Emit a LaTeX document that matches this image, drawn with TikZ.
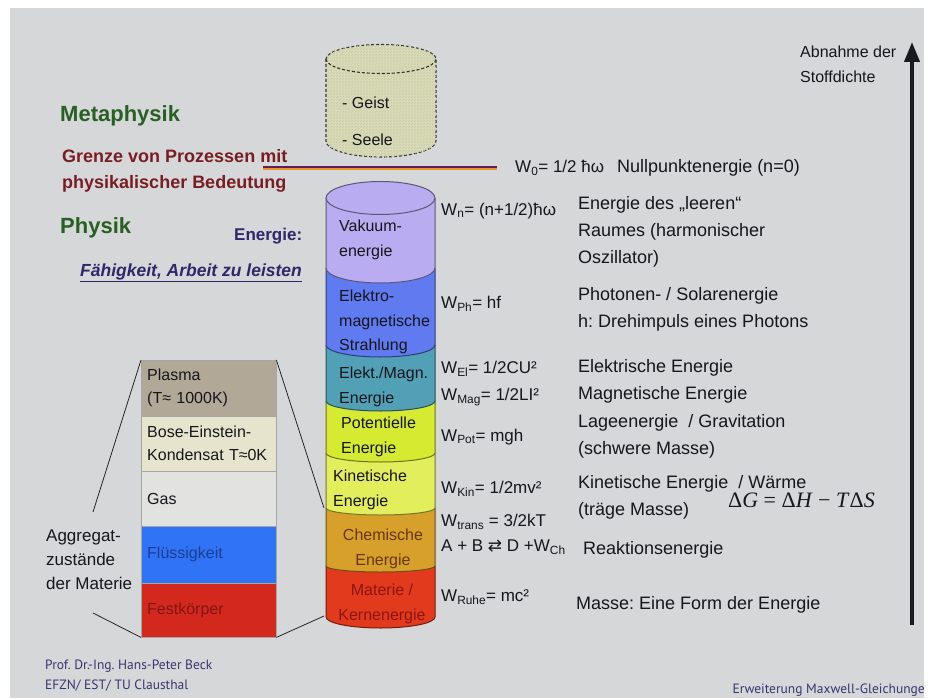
\documentclass[tikz,border=0pt]{standalone}
\usepackage{fontspec}
\setmainfont{Liberation Sans}
\newfontfamily\symfont{DejaVu Sans}
\newfontfamily\footfont{PT Sans}
\newfontfamily\eqfont{Liberation Serif}
\usepackage{tikz}
\usetikzlibrary{arrows.meta,patterns}
\frenchspacing

\definecolor{slide}{RGB}{214,215,217}
\definecolor{txt}{RGB}{22,22,28}
\definecolor{metagreen}{RGB}{40,95,35}
\definecolor{grenzred}{RGB}{120,30,35}
\definecolor{navy}{RGB}{45,40,105}
\definecolor{footblue}{RGB}{55,55,110}
\definecolor{cvak}{RGB}{186,172,240}
\definecolor{cem}{RGB}{96,122,240}
\definecolor{celm}{RGB}{82,160,182}
\definecolor{cpot}{RGB}{214,234,50}
\definecolor{ckin}{RGB}{226,238,92}
\definecolor{cchem}{RGB}{214,160,42}
\definecolor{cmat}{RGB}{226,58,28}
\definecolor{cmeta}{RGB}{216,220,172}
\definecolor{cplasma}{RGB}{178,168,152}
\definecolor{cbec}{RGB}{230,228,205}
\definecolor{cgas}{RGB}{226,226,224}
\definecolor{cfluid}{RGB}{48,116,245}
\definecolor{csolid}{RGB}{210,40,30}

\begin{document}
\begin{tikzpicture}[
  x=1pt, y=-1pt, >=Stealth,
  every node/.style={inner sep=0pt, text=txt},
  head/.style={anchor=west, font=\fontsize{22}{26}\selectfont\bfseries, text=metagreen},
  grenz/.style={anchor=west, align=left, font=\fontsize{18}{26}\selectfont\bfseries, text=grenzred},
  cyl/.style={anchor=west, align=left, font=\fontsize{16}{24.5}\selectfont},
  frm/.style={anchor=west, font=\fontsize{17}{20}\selectfont},
  desc/.style={anchor=west, align=left, font=\fontsize{18}{27}\selectfont},
  row/.style={draw=gray!70, anchor=north west, minimum width=135pt,
              text width=123pt, align=left, inner xsep=6pt,
              font=\fontsize{16}{23}\selectfont},
  link/.style={draw=gray!30!black, line width=0.8pt},
  foot/.style={font=\footfont\fontsize{13.5}{20}\selectfont, text=footblue},
]
  %% Slide background
  \fill[white] (0,0) rectangle (933,698);
  \fill[slide] (10,8) rectangle (924,698);
  \useasboundingbox (0,0) rectangle (933,698);

  %% Metaphysik cylinder (dashed, hatched)
  \draw[densely dashed, line width=1.1pt, draw=gray!40!black, fill=cmeta,
        postaction={pattern=north east lines, pattern color=gray!45}]
    (326,59) -- (326,141) arc[start angle=180, end angle=0, x radius=55, y radius=16]
    -- (436,59) arc[start angle=0, end angle=-180, x radius=55, y radius=14.5] -- cycle;
  \draw[densely dashed, line width=1.1pt, draw=gray!40!black]
    (326,59) arc[start angle=180, end angle=0, x radius=55, y radius=14.5];
  \node[cyl] (geist) at (342,103) {- Geist};
  \node[cyl] (seele) at (342,140) {- Seele};

  %% Boundary line between Metaphysik and Physik
  \coordinate (gstart) at (263,167);
  \coordinate (gend) at (497,167);
  \draw[line width=2.4pt, draw={rgb,255:red,95;green,30;blue,90}] (gstart) -- (gend);
  \draw[line width=1.2pt, draw={rgb,255:red,232;green,150;blue,40}]
    ([yshift=-2pt]gstart) -- ([yshift=-2pt]gend);

  %% Energy cylinder, segments drawn from the bottom up
  \foreach \yt/\yb/\ry/\col in {566/617/11/cmat, 508/566/6/cchem, 453/508/7/ckin,
      401/453/9/cpot, 345/401/10/celm, 268/345/12/cem, 198/268/15/cvak}
    \filldraw[fill=\col, draw=\col!50!black, line width=1pt]
      (326,\yt) -- (326,\yb) arc[start angle=180, end angle=0, x radius=54.5, y radius=\ry]
      -- (435,\yt);
  \filldraw[fill=cvak, draw=cvak!50!black, line width=1pt]
    (380.5,198) ellipse[x radius=54.5, y radius=16.5];

  %% Cylinder labels
  \node[cyl] (vak) at (339,240) {Vakuum-\\energie};
  \node[cyl] (em) at (339,322) {Elektro-\\magnetische\\Strahlung};
  \node[cyl] (elm) at (339,387) {Elekt./Magn.\\Energie};
  \node[cyl] (pot) at (341,437) {Potentielle\\Energie};
  \node[cyl] (kin) at (333,490) {Kinetische\\Energie};
  \node[cyl, anchor=center, align=center, text={rgb,255:red,105;green,55;blue,15}]
    (chem) at (383,549) {Chemische\\Energie};
  \node[cyl, anchor=center, align=center, text={rgb,255:red,140;green,22;blue,20}]
    (mat) at (382,604) {Materie /\\Kernenergie};

  %% Left headings
  \node[head] (meta) at (60,116) {Metaphysik};
  \node[grenz] (grenze) at (62,171) {Grenze von Prozessen mit\\physikalischer Bedeutung};
  \node[head] (phys) at (60,228) {Physik};
  \node[anchor=west, font=\fontsize{17}{20}\selectfont\bfseries, text=navy]
    (energie) at (234,236) {Energie:};
  \node[anchor=west, font=\fontsize{17.5}{20}\selectfont\bfseries\itshape, text=navy]
    (faehig) at (80,273) {\underline{Fähigkeit, Arbeit zu leisten}};

  %% Formulas
  \node[frm] (w0) at (515,168) {W\textsubscript{0}= 1/2 ħω};
  \node[anchor=west, font=\fontsize{18}{20}\selectfont] (null) at (617,168)
    {Nullpunktenergie (n=0)};
  \node[frm] (wn) at (441,211) {W\textsubscript{n}= (n+1/2)ħω};
  \node[frm] (wph) at (441,304) {W\textsubscript{Ph}= hf};
  \node[frm] (wel) at (441,369) {W\textsubscript{El}= 1/2CU²};
  \node[frm] (wmag) at (441,397) {W\textsubscript{Mag}= 1/2LI²};
  \node[frm] (wpot) at (441,437) {W\textsubscript{Pot}= mgh};
  \node[frm] (wkin) at (441,489) {W\textsubscript{Kin}= 1/2mv²};
  \node[frm] (wtrans) at (441,522) {W\textsubscript{trans} = 3/2kT};
  \node[frm] (wch) at (441,547) {A + B {\symfont ⇄} D +W\textsubscript{Ch}};
  \node[frm] (wruhe) at (441,597) {W\textsubscript{Ruhe}= mc²};

  %% Descriptions
  \node[desc] (dvak) at (578,232) {Energie des „leeren“\\Raumes (harmonischer\\Oszillator)};
  \node[desc] (dph) at (578,309) {Photonen- / Solarenergie\\h: Drehimpuls eines Photons};
  \node[desc] (del) at (578,368) {Elektrische Energie};
  \node[desc] (dmag) at (578,395) {Magnetische Energie};
  \node[desc] (dpot) at (578,436) {Lageenergie~ / Gravitation\\(schwere Masse)};
  \node[desc] (dkin) at (578,497) {Kinetische Energie~ / Wärme\\(träge Masse)};
  \node[anchor=west, font=\eqfont\fontsize{22}{24}\selectfont] (gibbs) at (728,500)
    {Δ\textit{G} = Δ\textit{H} − \textit{T}Δ\textit{S}};
  \node[desc] (dchem) at (583,550) {Reaktionsenergie};
  \node[desc] (dmat) at (576,605) {Masse: Eine Form der Energie};

  %% Aggregate states stack
  \node[row, fill=cplasma, minimum height=56pt] (plasma) at (141,360) {Plasma\\(T≈ 1000K)};
  \node[row, fill=cbec, minimum height=55pt] (bec) at (141,416) {Bose-Einstein-\\Kondensat T≈0K};
  \node[row, fill=cgas, minimum height=55pt] (gas) at (141,471) {Gas};
  \node[row, fill=cfluid, minimum height=57pt, text={rgb,255:red,30;green,60;blue,150}]
    (fluid) at (141,526) {Flüssigkeit};
  \node[row, fill=csolid, minimum height=54pt, text={rgb,255:red,130;green,22;blue,20}]
    (solid) at (141,583) {Festkörper};

  \node[anchor=west, align=left, font=\fontsize{17}{24}\selectfont] (agg) at (46,560)
    {Aggregat-\\zustände\\der Materie};

  %% Zoom lines
  \coordinate (aggtop) at (93,512);
  \coordinate (aggbot) at (93,613);
  \coordinate (cylkin) at (324,508);
  \coordinate (cylbot) at (324,616);
  \draw[link] (plasma.north west) -- (aggtop);
  \draw[link] (aggbot) -- (solid.south west);
  \draw[link] (plasma.north east) -- (cylkin);
  \draw[link] (solid.south east) -- (cylbot);

  %% Density arrow
  \node[anchor=west, align=left, font=\fontsize{16}{25}\selectfont] (abn) at (800,64)
    {Abnahme der\\Stoffdichte};
  \coordinate (arrbase) at (912,625);
  \coordinate (arrtip) at (912,42);
  \draw[line width=4pt, draw={rgb,255:red,25;green,25;blue,30},
        -{Triangle[length=20pt, width=15pt]}] (arrbase) -- (arrtip);

  %% Footer
  \node[foot, anchor=west, align=left] (prof) at (45,676)
    {Prof. Dr.-Ing. Hans-Peter Beck\\EFZN/ EST/ TU Clausthal};
  \node[foot, anchor=east] (maxw) at (925,690) {Erweiterung Maxwell-Gleichunge};
\end{tikzpicture}
\end{document}
